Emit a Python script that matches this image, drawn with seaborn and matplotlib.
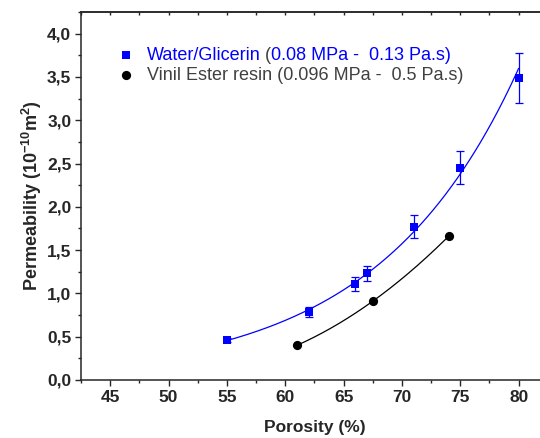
import numpy as np
import pandas as pd
import matplotlib
matplotlib.use("Agg")
import matplotlib.pyplot as plt
from matplotlib.ticker import AutoMinorLocator
import seaborn as sns

# Water/Glicerin measurements (with error bars)
water_porosity = [55, 62, 66, 67, 71, 75, 80]
water_perm = [0.46, 0.79, 1.11, 1.23, 1.77, 2.45, 3.49]
water_err = [0.02, 0.058, 0.08, 0.088, 0.13, 0.19, 0.29]

# Vinil Ester resin measurements
resin_porosity = [61, 67.5, 74]
resin_perm = [0.40, 0.91, 1.66]

x_ticks = [45, 50, 55, 60, 65, 70, 75, 80]
y_ticks = [0.0, 0.5, 1.0, 1.5, 2.0, 2.5, 3.0, 3.5, 4.0]
y_tick_labels = ['0,0', '0,5', '1,0', '1,5', '2,0', '2,5', '3,0', '3,5', '4,0']

sns.set_style("ticks")
plt.rcParams['font.family'] = ['Liberation Sans', 'DejaVu Sans']
plt.rcParams['mathtext.fontset'] = 'custom'
plt.rcParams['mathtext.rm'] = 'Liberation Sans:bold'
plt.rcParams['mathtext.default'] = 'rm'

df_water = pd.DataFrame({'porosity': water_porosity, 'perm': water_perm})
df_resin = pd.DataFrame({'porosity': resin_porosity, 'perm': resin_perm})

# fitted curves: exponential for water, 2nd order for resin
b, a = np.polyfit(water_porosity, np.log(water_perm), 1)
xw = np.linspace(min(water_porosity), max(water_porosity), 200)
yw = np.exp(a + b * xw)
coef = np.polyfit(resin_porosity, resin_perm, 2)
xr = np.linspace(min(resin_porosity), max(resin_porosity), 200)
yr = np.polyval(coef, xr)

fig = plt.figure(figsize=(5.4, 4.38), dpi=100)
ax = fig.add_axes([81 / 540, 1 - 380 / 438, 466.8 / 540, 368 / 438])

sns.lineplot(x=xw, y=yw, color='blue', linewidth=0.9, ax=ax)
sns.lineplot(x=xr, y=yr, color='black', linewidth=0.9, ax=ax)
ax.errorbar(water_porosity, water_perm, yerr=water_err, fmt='none',
            ecolor='blue', elinewidth=0.9, capsize=3, capthick=0.9, zorder=3)
sns.scatterplot(data=df_water, x='porosity', y='perm', marker='s', color='blue',
                s=36, linewidth=0, label='Water/Glicerin', ax=ax, zorder=4)
sns.scatterplot(data=df_resin, x='porosity', y='perm', marker='o', color='black',
                s=44, linewidth=0, label='Vinil Ester resin (0.096 MPa -  0.5 Pa.s)',
                ax=ax, zorder=4)

ax.set_xlim(42.5, 82.5)
ax.set_ylim(0, 4.25)
ax.set_xticks(x_ticks)
ax.set_yticks(y_ticks)
ax.set_yticklabels(y_tick_labels)
ax.xaxis.set_minor_locator(AutoMinorLocator(2))
ax.yaxis.set_minor_locator(AutoMinorLocator(2))
ax.tick_params(which='major', direction='out', length=4.5, width=1, labelsize=12.5, pad=2.5)
ax.tick_params(which='minor', direction='out', length=2.5, width=1)
for lbl in ax.get_xticklabels() + ax.get_yticklabels():
    lbl.set_fontweight('bold')

top = ax.secondary_xaxis('top')
top.set_xticks(x_ticks)
top.xaxis.set_minor_locator(AutoMinorLocator(2))
top.tick_params(which='both', direction='in', length=2.5, width=1, labeltop=False)

for sp in ['left', 'bottom', 'top']:
    ax.spines[sp].set_linewidth(1.1)
top.spines['top'].set_linewidth(1.1)
ax.spines['right'].set_visible(False)

ax.set_xlabel('Porosity (%)', fontsize=12.5, fontweight='bold', labelpad=11)
ax.set_ylabel(r'Permeability (10$^{-10}$m$^{2}$)', fontsize=13,
              fontweight='bold', labelpad=2)

leg = ax.legend(loc='upper left', bbox_to_anchor=(0.0767, 0.906), frameon=False,
                fontsize=13, handlelength=1, handletextpad=0.65, labelspacing=0.2,
                borderpad=0, borderaxespad=0)
texts = leg.get_texts()
texts[0].set_color('blue')
texts[1].set_color('#404040')
t1 = ax.annotate(' (', xy=(1, 0), xycoords=texts[0], va='bottom', ha='left',
                 fontsize=13, color='#404040', zorder=6)
ax.annotate('0.08 MPa -  0.13 Pa.s)', xy=(1, 0), xycoords=t1, va='bottom',
            ha='left', fontsize=13, color='blue', zorder=7)

fig.savefig('out.png', dpi=100)
